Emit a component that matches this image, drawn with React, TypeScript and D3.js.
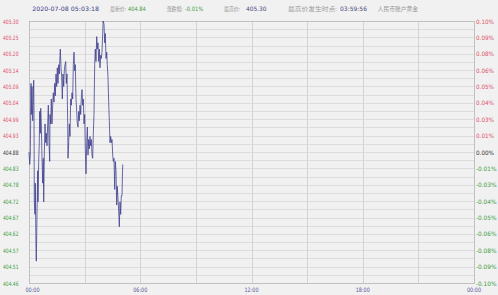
import React from "react";
import * as d3 from "d3";

// ---- data ----
const minutes = [0,2.3,4.2,6.5,7.4,9.7,12.0,13.9,15.2,16.2,
17.2,19.4,20.4,22.7,23.6,25.9,28.2,29.1,31.4,33.3,
34.6,36.6,37.9,39.8,42.1,44.3,46.3,47.6,49.5,51.8,
54.0,56.0,58.2,60.5,62.5,64.7,67.0,68.0,70.2,72.2,
74.4,76.7,78.6,80.9,83.2,85.1,87.4,89.6,91.6,93.8,
96.1,98.1,100.3,101.3,103.6,105.8,107.8,110.0,112.3,114.2,
116.5,118.8,120.7,123.0,125.2,126.2,128.5,130.4,132.7,134.9,
136.9,139.1,141.4,143.4,145.6,147.9,149.8,152.1,154.4,156.3,
158.6,160.8,162.8,165.0,167.3,169.2,171.5,173.8,175.7,178.0,
180.3,182.2,184.5,186.7,188.7,190.9,193.2,195.1,197.4,199.7,
201.6,203.9,206.1,208.1,210.3,212.6,214.5,216.8,219.1,221.0,
223.3,225.5,227.5,229.8,232.0,234.0,236.2,238.5,239.9,242.7,
245.0,246.9,249.2,251.5,253.4,255.6,257.9,259.9,262.1,264.4,
266.3,268.6,270.9,272.8,275.1,277.3,279.3,281.5,283.8,285.7,
288.0,290.3,292.2,294.5,296.7,298.7,301.0,302.3,303.3];

const prices = [404.88,404.84,404.87,405.10,405.00,405.09,404.98,405.06,405.11,405.00,
404.72,404.68,404.78,404.57,404.53,404.68,404.82,404.72,404.85,404.91,
405.01,404.94,405.02,404.97,404.86,404.78,404.86,404.72,404.87,404.97,
404.91,404.94,404.90,404.97,405.03,404.91,404.85,405.00,404.97,405.05,
404.97,405.03,405.07,405.04,405.10,405.06,405.13,405.09,405.15,405.10,
405.16,405.13,405.19,405.21,405.15,405.12,405.05,405.13,405.09,405.14,
405.16,405.17,405.10,405.13,404.97,404.86,404.91,404.97,404.93,405.05,
405.03,405.07,405.05,405.16,405.20,405.14,405.16,405.05,405.01,404.97,
404.96,405.01,404.98,405.03,405.00,405.05,405.08,405.03,405.05,404.97,
405.00,404.89,404.81,404.91,404.96,404.87,404.92,404.89,404.93,404.90,
404.92,404.87,404.86,404.94,405.00,405.16,405.21,405.17,405.25,405.21,
405.23,405.17,405.21,405.15,405.19,405.18,405.20,405.26,405.30,405.29,
405.23,405.26,405.18,405.20,405.16,405.12,405.04,404.98,404.91,404.93,
404.91,404.92,404.87,404.85,404.86,404.76,404.85,404.82,404.71,404.77,
404.73,404.69,404.64,404.72,404.68,404.74,404.74,404.80,404.84];

const prevClose = 404.88;
const priceMin = 404.46;
const priceMax = 405.30;

const leftLabels = ["405.30","405.25","405.20","405.14","405.09","405.04","404.99","404.93","404.88",
  "404.83","404.78","404.72","404.67","404.62","404.57","404.51","404.46"];
const rightLabels = ["0.10%","0.09%","0.08%","0.06%","0.05%","0.04%","0.03%","0.01%","0.00%",
  "-0.01%","-0.03%","-0.04%","-0.05%","-0.06%","-0.08%","-0.09%","-0.10%"];
const timeTicks = [0, 360, 720, 1080, 1440];
const timeLabels = ["00:00","06:00","12:00","18:00","00:00"];

const headerTime = "2020-07-08 05:03:18";
const lastLabel = "最新价:";
const lastValue = "404.84";
const changeLabel = "涨跌幅:";
const changeValue = "-0.01%";
const highLabel = "最高价:";
const highValue = "405.30";
const highTimeLabel = "最高价发生时点:";
const highTimeValue = "03:59:56";
const productName = "人民币账户黄金";

const W = 498, H = 295;
const L = 29, R = 474, T = 21, B = 283;
const FONT = "'DejaVu Sans', Verdana, sans-serif";
const CJK = "'Noto Sans CJK SC', sans-serif";
const RED = "#e0506a";
const GREEN = "#3c9c3c";
const DARK = "#333333";

function T2({ x, y, w, color, children, font = FONT, size = 6, anchor = "start" }: any) {
  return (
    <text x={x} y={y} fill={color} fontFamily={font} fontSize={size} textAnchor={anchor}
      dominantBaseline="central" textLength={w} lengthAdjust="spacingAndGlyphs">{children}</text>
  );
}

export default function App() {
  const x = d3.scaleLinear().domain([0, 1440]).range([L, R]);
  const y = d3.scaleLinear().domain([priceMin, priceMax]).range([B, T]);
  const data = minutes.map((m, i) => [m, prices[i]] as [number, number]);
  const line = d3.line<[number, number]>().x(d => x(d[0])).y(d => y(d[1]));

  const nGrid = 32;
  const gridVals = d3.range(nGrid + 1).map(i => priceMin + (i * (priceMax - priceMin)) / nGrid);
  const vGrid = d3.range(0, 1441, 180);
  const labelVals = leftLabels.map((_, i) => priceMax - (i * (priceMax - priceMin)) / 16);
  const colorFor = (v: number) => Math.abs(v - prevClose) < 1e-6 ? DARK : v > prevClose ? RED : GREEN;

  return (
    <div style={{ position: "fixed", left: 0, top: 0, width: W, height: H }}>
      <svg width={W} height={H} style={{ display: "block", background: "#f1f1f1" }}>
        <rect x={0} y={0} width={W} height={H} fill="#f1f1f1" />
        {gridVals.map((v, i) => (
          <line key={"h" + i} x1={L} x2={R} y1={Math.round(y(v)) + 0.5} y2={Math.round(y(v)) + 0.5}
            stroke="#dcdcdc" strokeWidth={1} />
        ))}
        {vGrid.map((m, i) => (
          <line key={"v" + i} x1={Math.round(x(m)) + 0.5} x2={Math.round(x(m)) + 0.5} y1={T} y2={B}
            stroke="#d4d4d4" strokeWidth={1} />
        ))}
        <rect x={L + 0.5} y={T + 0.5} width={R - L} height={B - T} fill="none" stroke="#c0c0c0" strokeWidth={1} />

        <path d={line(data) || ""} fill="none" stroke="#3a3a8c" strokeOpacity={0.75} strokeWidth={1} />

        {leftLabels.map((s, i) => (
          <T2 key={"l" + i} x={3} y={y(labelVals[i])} w={15.5} color={colorFor(labelVals[i])}>{s}</T2>
        ))}
        {rightLabels.map((s, i) => (
          <T2 key={"r" + i} x={476} y={y(labelVals[i])} w={s.startsWith("-") ? 20.5 : 18}
            color={colorFor(labelVals[i])}>{s}</T2>
        ))}
        {timeTicks.map((m, i) => (
          <T2 key={"t" + i} x={i === 0 ? x(m) + 3.5 : x(m)} y={289} w={14} anchor="middle" color="#555599">
            {timeLabels[i]}
          </T2>
        ))}

        <T2 x={32.3} y={8.5} w={66.7} color="#3a3a8a">{headerTime}</T2>
        <T2 x={110} y={8.5} w={16} color="#999999" font={CJK}>{lastLabel}</T2>
        <T2 x={128} y={8.5} w={17.7} color={GREEN}>{lastValue}</T2>
        <T2 x={166.7} y={8.5} w={16} color="#999999" font={CJK}>{changeLabel}</T2>
        <T2 x={185} y={8.5} w={18} color={GREEN}>{changeValue}</T2>
        <T2 x={224} y={8.5} w={16} color="#999999" font={CJK}>{highLabel}</T2>
        <T2 x={246} y={8.5} w={20.5} color="#4a4a7a">{highValue}</T2>
        <T2 x={288} y={8.5} w={49} color="#999999" font={CJK}>{highTimeLabel}</T2>
        <T2 x={340} y={8.5} w={27} color="#4a4a7a">{highTimeValue}</T2>
        <T2 x={377.7} y={8.5} w={40.3} color="#999999" font={CJK}>{productName}</T2>
      </svg>
    </div>
  );
}
